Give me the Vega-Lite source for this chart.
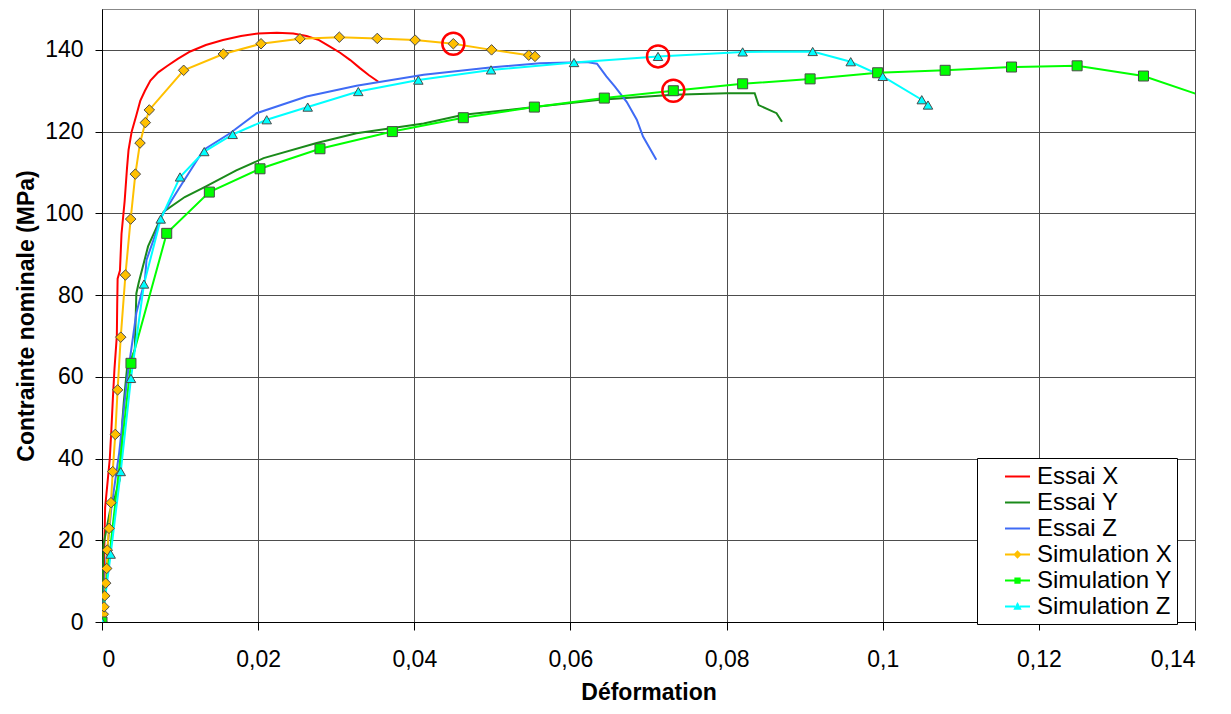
{
  "$schema": "https://vega.github.io/schema/vega-lite/v6.json",
  "width": 1093,
  "height": 613,
  "autosize": {"type": "none"},
  "padding": {"left": 102, "top": 9, "right": 36, "bottom": 92},
  "background": "white",
  "datasets": {
    "curves": [
      {"serie": "Essai X", "x": 0, "y": 0},
      {"serie": "Essai X", "x": 0.0002, "y": 8},
      {"serie": "Essai X", "x": 0.0003, "y": 18},
      {"serie": "Essai X", "x": 0.0004, "y": 28},
      {"serie": "Essai X", "x": 0.0007, "y": 34},
      {"serie": "Essai X", "x": 0.001, "y": 40},
      {"serie": "Essai X", "x": 0.0012, "y": 47},
      {"serie": "Essai X", "x": 0.0014, "y": 55},
      {"serie": "Essai X", "x": 0.0016, "y": 62},
      {"serie": "Essai X", "x": 0.0019, "y": 70},
      {"serie": "Essai X", "x": 0.00195, "y": 78},
      {"serie": "Essai X", "x": 0.002, "y": 84},
      {"serie": "Essai X", "x": 0.0023, "y": 86},
      {"serie": "Essai X", "x": 0.0025, "y": 95},
      {"serie": "Essai X", "x": 0.0029, "y": 103},
      {"serie": "Essai X", "x": 0.0032, "y": 111},
      {"serie": "Essai X", "x": 0.0034, "y": 115.5},
      {"serie": "Essai X", "x": 0.0038, "y": 120},
      {"serie": "Essai X", "x": 0.0044, "y": 124},
      {"serie": "Essai X", "x": 0.0049, "y": 127.5},
      {"serie": "Essai X", "x": 0.0055, "y": 130},
      {"serie": "Essai X", "x": 0.0062, "y": 132.5},
      {"serie": "Essai X", "x": 0.0072, "y": 134.5},
      {"serie": "Essai X", "x": 0.0083, "y": 136},
      {"serie": "Essai X", "x": 0.0097, "y": 137.8},
      {"serie": "Essai X", "x": 0.0113, "y": 139.6},
      {"serie": "Essai X", "x": 0.0133, "y": 141.2},
      {"serie": "Essai X", "x": 0.0155, "y": 142.4},
      {"serie": "Essai X", "x": 0.0178, "y": 143.4},
      {"serie": "Essai X", "x": 0.02, "y": 144},
      {"serie": "Essai X", "x": 0.0224, "y": 144.2},
      {"serie": "Essai X", "x": 0.0245, "y": 144},
      {"serie": "Essai X", "x": 0.0262, "y": 143.4},
      {"serie": "Essai X", "x": 0.0278, "y": 142.4},
      {"serie": "Essai X", "x": 0.0292, "y": 140.8},
      {"serie": "Essai X", "x": 0.0305, "y": 139.3},
      {"serie": "Essai X", "x": 0.0318, "y": 137.5},
      {"serie": "Essai X", "x": 0.033, "y": 135.6},
      {"serie": "Essai X", "x": 0.0342, "y": 133.8},
      {"serie": "Essai X", "x": 0.0354, "y": 132.2},

      {"serie": "Essai Y", "x": 0, "y": 0},
      {"serie": "Essai Y", "x": 0.0001, "y": 10},
      {"serie": "Essai Y", "x": 0.0002, "y": 19},
      {"serie": "Essai Y", "x": 0.0005, "y": 22},
      {"serie": "Essai Y", "x": 0.001, "y": 27},
      {"serie": "Essai Y", "x": 0.0017, "y": 31},
      {"serie": "Essai Y", "x": 0.0023, "y": 35},
      {"serie": "Essai Y", "x": 0.0025, "y": 42},
      {"serie": "Essai Y", "x": 0.0026, "y": 49},
      {"serie": "Essai Y", "x": 0.0028, "y": 54},
      {"serie": "Essai Y", "x": 0.0032, "y": 62},
      {"serie": "Essai Y", "x": 0.0042, "y": 66.6},
      {"serie": "Essai Y", "x": 0.0044, "y": 80.4},
      {"serie": "Essai Y", "x": 0.0047, "y": 83},
      {"serie": "Essai Y", "x": 0.0059, "y": 91.9},
      {"serie": "Essai Y", "x": 0.0079, "y": 100.4},
      {"serie": "Essai Y", "x": 0.0106, "y": 104},
      {"serie": "Essai Y", "x": 0.0132, "y": 106.5},
      {"serie": "Essai Y", "x": 0.0172, "y": 110.5},
      {"serie": "Essai Y", "x": 0.0207, "y": 113.5},
      {"serie": "Essai Y", "x": 0.0275, "y": 117.2},
      {"serie": "Essai Y", "x": 0.0326, "y": 119.6},
      {"serie": "Essai Y", "x": 0.0412, "y": 122},
      {"serie": "Essai Y", "x": 0.0463, "y": 124.1},
      {"serie": "Essai Y", "x": 0.0557, "y": 126.1},
      {"serie": "Essai Y", "x": 0.0638, "y": 127.8},
      {"serie": "Essai Y", "x": 0.0732, "y": 129},
      {"serie": "Essai Y", "x": 0.08, "y": 129.4},
      {"serie": "Essai Y", "x": 0.0836, "y": 129.4},
      {"serie": "Essai Y", "x": 0.0841, "y": 126.5},
      {"serie": "Essai Y", "x": 0.0864, "y": 124.5},
      {"serie": "Essai Y", "x": 0.0871, "y": 122.4},

      {"serie": "Essai Z", "x": 0, "y": 0},
      {"serie": "Essai Z", "x": 0.0003, "y": 8},
      {"serie": "Essai Z", "x": 0.0006, "y": 16},
      {"serie": "Essai Z", "x": 0.0012, "y": 28},
      {"serie": "Essai Z", "x": 0.0022, "y": 41.4},
      {"serie": "Essai Z", "x": 0.0032, "y": 59.2},
      {"serie": "Essai Z", "x": 0.0044, "y": 75.6},
      {"serie": "Essai Z", "x": 0.0055, "y": 83.7},
      {"serie": "Essai Z", "x": 0.0057, "y": 88.6},
      {"serie": "Essai Z", "x": 0.0066, "y": 93.5},
      {"serie": "Essai Z", "x": 0.0076, "y": 99.2},
      {"serie": "Essai Z", "x": 0.01, "y": 106.5},
      {"serie": "Essai Z", "x": 0.013, "y": 115.5},
      {"serie": "Essai Z", "x": 0.0164, "y": 119.6},
      {"serie": "Essai Z", "x": 0.0198, "y": 124.5},
      {"serie": "Essai Z", "x": 0.0262, "y": 128.6},
      {"serie": "Essai Z", "x": 0.0326, "y": 131.2},
      {"serie": "Essai Z", "x": 0.0412, "y": 133.9},
      {"serie": "Essai Z", "x": 0.0497, "y": 135.7},
      {"serie": "Essai Z", "x": 0.0561, "y": 136.7},
      {"serie": "Essai Z", "x": 0.0599, "y": 136.9},
      {"serie": "Essai Z", "x": 0.0621, "y": 137},
      {"serie": "Essai Z", "x": 0.0634, "y": 136.6},
      {"serie": "Essai Z", "x": 0.0646, "y": 133.5},
      {"serie": "Essai Z", "x": 0.0657, "y": 131},
      {"serie": "Essai Z", "x": 0.0672, "y": 127.3},
      {"serie": "Essai Z", "x": 0.0685, "y": 122.9},
      {"serie": "Essai Z", "x": 0.0693, "y": 118.8},
      {"serie": "Essai Z", "x": 0.071, "y": 113.1},

      {"serie": "Simulation X", "x": 0, "y": 0},
      {"serie": "Simulation X", "x": 0.00017, "y": 1.9},
      {"serie": "Simulation X", "x": 0.00026, "y": 3.7},
      {"serie": "Simulation X", "x": 0.00035, "y": 6.4},
      {"serie": "Simulation X", "x": 0.00047, "y": 9.5},
      {"serie": "Simulation X", "x": 0.0006, "y": 13.1},
      {"serie": "Simulation X", "x": 0.00068, "y": 17.6},
      {"serie": "Simulation X", "x": 0.0009, "y": 22.9},
      {"serie": "Simulation X", "x": 0.00115, "y": 29.2},
      {"serie": "Simulation X", "x": 0.00137, "y": 36.8},
      {"serie": "Simulation X", "x": 0.0017, "y": 45.9},
      {"serie": "Simulation X", "x": 0.002, "y": 56.8},
      {"serie": "Simulation X", "x": 0.0024, "y": 69.7},
      {"serie": "Simulation X", "x": 0.003, "y": 84.9},
      {"serie": "Simulation X", "x": 0.00367, "y": 98.6},
      {"serie": "Simulation X", "x": 0.00427, "y": 109.6},
      {"serie": "Simulation X", "x": 0.00487, "y": 117.2},
      {"serie": "Simulation X", "x": 0.00555, "y": 122.2},
      {"serie": "Simulation X", "x": 0.00606, "y": 125.3},
      {"serie": "Simulation X", "x": 0.01046, "y": 135},
      {"serie": "Simulation X", "x": 0.01554, "y": 139},
      {"serie": "Simulation X", "x": 0.02037, "y": 141.5},
      {"serie": "Simulation X", "x": 0.02536, "y": 142.7},
      {"serie": "Simulation X", "x": 0.0304, "y": 143.1},
      {"serie": "Simulation X", "x": 0.03526, "y": 142.8},
      {"serie": "Simulation X", "x": 0.0401, "y": 142.4},
      {"serie": "Simulation X", "x": 0.045, "y": 141.5},
      {"serie": "Simulation X", "x": 0.0499, "y": 140},
      {"serie": "Simulation X", "x": 0.05466, "y": 138.7},
      {"serie": "Simulation X", "x": 0.05546, "y": 138.4},

      {"serie": "Simulation Y", "x": 0, "y": 0},
      {"serie": "Simulation Y", "x": 0.00371, "y": 63.3},
      {"serie": "Simulation Y", "x": 0.00829, "y": 95.1},
      {"serie": "Simulation Y", "x": 0.01375, "y": 105.2},
      {"serie": "Simulation Y", "x": 0.02024, "y": 110.9},
      {"serie": "Simulation Y", "x": 0.02792, "y": 115.8},
      {"serie": "Simulation Y", "x": 0.03719, "y": 120},
      {"serie": "Simulation Y", "x": 0.04628, "y": 123.4},
      {"serie": "Simulation Y", "x": 0.05538, "y": 126},
      {"serie": "Simulation Y", "x": 0.06434, "y": 128.2},
      {"serie": "Simulation Y", "x": 0.07318, "y": 130},
      {"serie": "Simulation Y", "x": 0.08206, "y": 131.7},
      {"serie": "Simulation Y", "x": 0.0907, "y": 132.9},
      {"serie": "Simulation Y", "x": 0.09935, "y": 134.4},
      {"serie": "Simulation Y", "x": 0.108, "y": 135},
      {"serie": "Simulation Y", "x": 0.1165, "y": 135.8},
      {"serie": "Simulation Y", "x": 0.1249, "y": 136.1},
      {"serie": "Simulation Y", "x": 0.1334, "y": 133.6},
      {"serie": "Simulation Y", "x": 0.1419, "y": 128.1},

      {"serie": "Simulation Z", "x": 0, "y": 0},
      {"serie": "Simulation Z", "x": 0.00111, "y": 16.6},
      {"serie": "Simulation Z", "x": 0.0024, "y": 36.8},
      {"serie": "Simulation Z", "x": 0.00371, "y": 59.6},
      {"serie": "Simulation Z", "x": 0.00538, "y": 82.7},
      {"serie": "Simulation Z", "x": 0.00752, "y": 98.6},
      {"serie": "Simulation Z", "x": 0.00999, "y": 108.9},
      {"serie": "Simulation Z", "x": 0.0131, "y": 115.1},
      {"serie": "Simulation Z", "x": 0.01674, "y": 119.3},
      {"serie": "Simulation Z", "x": 0.0211, "y": 122.9},
      {"serie": "Simulation Z", "x": 0.02635, "y": 126},
      {"serie": "Simulation Z", "x": 0.03283, "y": 129.8},
      {"serie": "Simulation Z", "x": 0.04052, "y": 132.6},
      {"serie": "Simulation Z", "x": 0.04983, "y": 135.1},
      {"serie": "Simulation Z", "x": 0.06046, "y": 136.9},
      {"serie": "Simulation Z", "x": 0.07122, "y": 138.4},
      {"serie": "Simulation Z", "x": 0.08206, "y": 139.5},
      {"serie": "Simulation Z", "x": 0.09103, "y": 139.6},
      {"serie": "Simulation Z", "x": 0.0959, "y": 137.1},
      {"serie": "Simulation Z", "x": 0.1, "y": 133.5},
      {"serie": "Simulation Z", "x": 0.105, "y": 127.8},
      {"serie": "Simulation Z", "x": 0.1058, "y": 126.5}
    ],
    "highlights": [
      {"serie": "Simulation X", "x": 0.045, "y": 141.5},
      {"serie": "Simulation Z", "x": 0.07122, "y": 138.4},
      {"serie": "Simulation Y", "x": 0.07318, "y": 130}
    ]
  },
  "layer": [
    {
      "data": {"name": "curves"},
      "mark": {"type": "line", "strokeWidth": 2, "clip": true, "interpolate": "linear"},
      "encoding": {
        "x": {
          "field": "x", "type": "quantitative",
          "scale": {"domain": [0, 0.14], "nice": false, "zero": false},
          "axis": {
            "values": [0, 0.02, 0.04, 0.06, 0.08, 0.1, 0.12, 0.14],
            "labelExpr": "replace(format(datum.value, '~g'), '.', ',')",
            "title": "Déformation",
            "labelPadding": 18,
            "titlePadding": 10
          }
        },
        "y": {
          "field": "y", "type": "quantitative",
          "scale": {"domain": [0, 150], "nice": false},
          "axis": {
            "values": [0, 20, 40, 60, 80, 100, 120, 140],
            "title": "Contrainte nominale (MPa)",
            "tickSize": 7,
            "labelPadding": 12,
            "titlePadding": 6
          }
        },
        "color": {
          "field": "serie", "type": "nominal",
          "scale": {
            "domain": ["Essai X", "Essai Y", "Essai Z", "Simulation X", "Simulation Y", "Simulation Z"],
            "range": ["#FF0000", "#1A8A1A", "#3F6BF5", "#FFC000", "#00FF00", "#00FFFF"]
          },
          "legend": {
            "orient": "none",
            "legendX": 875,
            "legendY": 449,
            "title": null,
            "fillColor": "white",
            "strokeColor": "black",
            "padding": 5,
            "labelFont": "Liberation Sans",
            "labelFontSize": 24,
            "labelColor": "black",
            "labelLimit": 300,
            "symbolSize": 625,
            "symbolStrokeWidth": 2,
            "symbolOffset": 22,
            "labelOffset": 6,
            "rowPadding": -0.7,
            "encode": {
              "symbols": {
                "update": {
                  "shape": {"signal": "datum.value === 'Simulation X' ? 'M-1,0H-0.22M0.22,0H1M0,-0.22L0.22,0L0,0.22L-0.22,0Z' : datum.value === 'Simulation Y' ? 'M-1,0H-0.17M0.17,0H1M-0.17,-0.17H0.17V0.17H-0.17Z' : datum.value === 'Simulation Z' ? 'M-1,0H-0.2M0.2,0H1M0,-0.2L0.2,0.17H-0.2Z' : 'M-1,0H1'"},
                  "fill": {"scale": "color", "field": "value"},
                  "stroke": {"scale": "color", "field": "value"},
                  "strokeWidth": {"value": 2},
                  "opacity": {"value": 1}
                }
              }
            }
          }
        }
      }
    },
    {
      "data": {"name": "curves"},
      "transform": [{"filter": "indexof(datum.serie, 'Simulation') === 0"}],
      "mark": {"type": "point", "filled": true, "stroke": "#4a4a4a", "strokeWidth": 1, "opacity": 1, "clip": true},
      "encoding": {
        "x": {"field": "x", "type": "quantitative"},
        "y": {"field": "y", "type": "quantitative"},
        "color": {"field": "serie", "type": "nominal", "legend": null},
        "shape": {
          "field": "serie", "type": "nominal",
          "scale": {"domain": ["Simulation X", "Simulation Y", "Simulation Z"], "range": ["diamond", "square", "triangle-up"]},
          "legend": null
        },
        "size": {
          "field": "serie", "type": "nominal",
          "scale": {"domain": ["Simulation X", "Simulation Y", "Simulation Z"], "range": [110, 90, 110]},
          "legend": null
        }
      }
    },
    {
      "data": {"name": "highlights"},
      "mark": {"type": "point", "shape": "circle", "filled": false, "stroke": "#FF0000", "strokeWidth": 2.5, "size": 484, "opacity": 1},
      "encoding": {
        "x": {"field": "x", "type": "quantitative"},
        "y": {"field": "y", "type": "quantitative"}
      }
    }
  ],
  "config": {
    "font": "Liberation Sans",
    "view": {"stroke": "#888888", "strokeWidth": 1},
    "axis": {
      "domainColor": "#000000",
      "domainWidth": 1,
      "tickColor": "#000000",
      "tickSize": 8,
      "labelFont": "Liberation Sans",
      "labelFontSize": 23,
      "labelColor": "#000000",
      "titleFont": "Liberation Sans",
      "titleFontSize": 23,
      "titleFontWeight": "bold",
      "titleColor": "#000000",
      "grid": true,
      "gridColor": "#4d4d4d",
      "gridWidth": 1,
      "gridOpacity": 1
    }
  }
}
